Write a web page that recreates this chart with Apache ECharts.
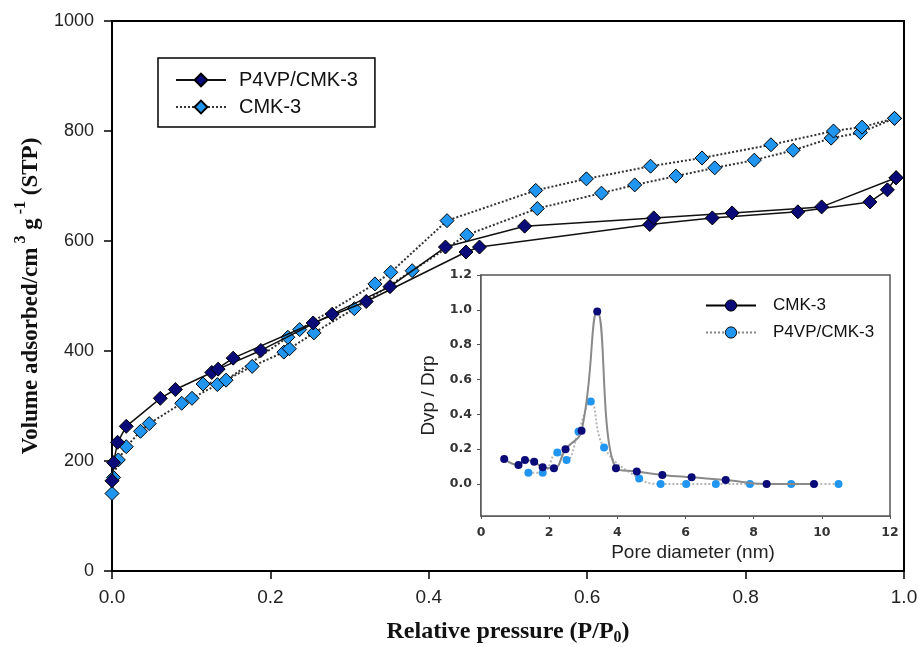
<!DOCTYPE html>
<html>
<head>
<meta charset="utf-8">
<script src="https://cdn.jsdelivr.net/npm/echarts@6/dist/echarts.min.js"></script>
<style>
html,body{margin:0;padding:0;background:#fff;}
#chart{width:918px;height:647px;}
</style>
</head>
<body>
<div id="chart"></div>
<script>
// ---- Main isotherm data (Relative pressure P/P0 vs Volume adsorbed) ----
const p4vpAdsP = [0.000, 0.002, 0.007, 0.018, 0.061, 0.080, 0.126, 0.153, 0.254, 0.321, 0.447, 0.464, 0.679, 0.758, 0.866, 0.957, 0.979, 0.990];
const p4vpAdsV = [164, 197, 234, 263, 314, 330, 361, 387, 451, 490, 580, 589, 630, 642, 653, 671, 693, 715];
const p4vpDesP = [0.990, 0.896, 0.783, 0.684, 0.521, 0.421, 0.351, 0.278, 0.188, 0.134];
const p4vpDesV = [715, 662, 651, 642, 627, 589, 517, 467, 401, 367];

const cmkAdsP = [0.000, 0.002, 0.008, 0.018, 0.036, 0.047, 0.088, 0.101, 0.133, 0.177, 0.217, 0.224, 0.255, 0.306, 0.379, 0.448, 0.537, 0.618, 0.660, 0.712, 0.761, 0.811, 0.860, 0.908, 0.945, 0.988];
const cmkAdsV = [141, 170, 202, 226, 254, 268, 305, 314, 339, 372, 398, 404, 433, 477, 546, 611, 659, 687, 702, 718, 733, 747, 765, 787, 797, 823];
const cmkDesP = [0.988, 0.947, 0.911, 0.832, 0.745, 0.680, 0.599, 0.535, 0.423, 0.352, 0.332, 0.237, 0.222, 0.144, 0.115];
const cmkDesV = [823, 807, 800, 775, 751, 736, 713, 692, 637, 543, 522, 439, 425, 347, 340];

// ---- Inset pore size distribution data ----
const poreCmkD = [0.68, 1.10, 1.29, 1.56, 1.81, 2.14, 2.48, 2.95, 3.41, 3.96, 4.57, 5.32, 6.18, 7.18, 8.38, 9.77];
const poreCmkV = [0.144, 0.109, 0.138, 0.128, 0.096, 0.090, 0.199, 0.306, 0.990, 0.090, 0.071, 0.052, 0.038, 0.023, 0.0, 0.0];
const poreP4vpD = [1.39, 1.81, 2.24, 2.51, 2.86, 3.22, 3.61, 4.64, 5.27, 6.02, 6.89, 7.89, 9.10, 10.49];
const poreP4vpV = [0.065, 0.065, 0.180, 0.138, 0.301, 0.473, 0.209, 0.032, 0.0, 0.0, 0.0, 0.0, 0.0, 0.0];

// ---- Tick values ----
const insetYTicks = [0, 0.2, 0.4, 0.6, 0.8, 1.0, 1.2];

const zip = (a, b) => a.map((v, i) => [v, b[i]]);

const DARK = '#0a0a78';
const LIGHT = '#2196f0';

const chart = echarts.init(document.getElementById('chart'), null, {renderer: 'canvas'});

const mainDark = {
  type: 'line', name: 'P4VP/CMK-3', xAxisIndex: 0, yAxisIndex: 0,
  symbol: 'diamond', symbolSize: 14,
  itemStyle: {color: DARK, borderColor: '#000', borderWidth: 1},
  lineStyle: {color: '#111', width: 1.5, type: 'solid'},
  z: 4
};
const mainLight = {
  type: 'line', name: 'CMK-3', xAxisIndex: 0, yAxisIndex: 0,
  symbol: 'diamond', symbolSize: 14,
  itemStyle: {color: LIGHT, borderColor: '#000', borderWidth: 1},
  lineStyle: {color: '#333', width: 2, type: 'dotted'},
  z: 3
};

const option = {
  animation: false,
  backgroundColor: '#fff',
  grid: [
    {left: 112, right: 14, top: 21, bottom: 76, containLabel: false, outerBoundsMode: 'none', show: true, borderColor: '#000', borderWidth: 2, backgroundColor: 'transparent'},
    {left: 481, right: 28, top: 275, bottom: 131, containLabel: false, outerBoundsMode: 'none', show: true, borderColor: '#555', borderWidth: 1.5, backgroundColor: '#fff', z: 5}
  ],
  legend: [
    {
      data: ['P4VP/CMK-3', 'CMK-3'],
      orient: 'vertical',
      left: 158, top: 58,
      padding: [12, 17, 10, 17],
      itemGap: 7,
      itemWidth: 50, itemHeight: 16,
      borderColor: '#000', borderWidth: 1.5,
      backgroundColor: '#fff',
      textStyle: {fontFamily: 'Liberation Sans, Arial, sans-serif', fontSize: 20, color: '#111', padding: [0, 0, 0, 8]},
      selectedMode: false
    },
    {
      data: [
        {name: 'in-CMK-3', lineStyle: {color: '#000', width: 2, type: 'solid'}, itemStyle: {borderColor: '#000', borderWidth: 1}},
        {name: 'in-P4VP/CMK-3', lineStyle: {color: '#888', width: 2, type: 'dotted'}, itemStyle: {borderColor: '#000', borderWidth: 1}}
      ],
      formatter: n => n.replace('in-', ''),
      orient: 'vertical',
      left: 705, top: 297,
      padding: 0,
      itemGap: 10,
      itemWidth: 50, itemHeight: 14,
      textStyle: {fontFamily: 'Liberation Sans, Arial, sans-serif', fontSize: 17, color: '#111', padding: [0, 0, 0, 12]},
      selectedMode: false,
      z: 10
    }
  ],
  xAxis: [
    {
      type: 'value', gridIndex: 0, min: 0, max: 1, interval: 0.2,
      name: '{a|Relative pressure (P/P}{b|0}{a|)}',
      nameLocation: 'middle', nameGap: 47,
      nameTextStyle: {
        rich: {
          a: {fontFamily: 'Liberation Serif, Times New Roman, serif', fontWeight: 'bold', fontSize: 24, color: '#111', lineHeight: 28, verticalAlign: 'middle'},
          b: {fontFamily: 'Liberation Serif, Times New Roman, serif', fontWeight: 'bold', fontSize: 16, color: '#111', lineHeight: 16, verticalAlign: 'bottom'}
        }
      },
      axisLine: {show: true, onZero: false, lineStyle: {color: '#000', width: 2}},
      axisTick: {show: true, inside: false, length: 8, lineStyle: {color: '#000', width: 1.5}},
      axisLabel: {margin: 17, fontFamily: 'Liberation Sans, Arial, sans-serif', fontSize: 19, color: '#222', formatter: v => v.toFixed(1)},
      splitLine: {show: false}
    },
    {
      type: 'value', gridIndex: 1, min: 0, max: 12, interval: 2,
      name: 'Pore diameter (nm)',
      nameLocation: 'middle', nameGap: 27,
      nameTextStyle: {fontFamily: 'Liberation Sans, Arial, sans-serif', fontSize: 19, color: '#222', padding: [0, 0, 0, 15]},
      axisLine: {show: true, onZero: false, lineStyle: {color: '#555', width: 1.5}},
      axisTick: {show: true, inside: false, length: 3, lineStyle: {color: '#555', width: 1}},
      axisLabel: {margin: 10, fontFamily: 'DejaVu Sans, sans-serif', fontWeight: 'bold', fontSize: 12.5, color: '#333'},
      splitLine: {show: false}
    }
  ],
  yAxis: [
    {
      type: 'value', gridIndex: 0, min: 0, max: 1000, interval: 200,
      name: '{a|Volume adsorbed/cm}{s| 3}{a| g}{s| -1}{a| (STP)}',
      nameLocation: 'middle', nameGap: 61,
      nameTextStyle: {
        rich: {
          a: {fontFamily: 'Liberation Serif, Times New Roman, serif', fontWeight: 'bold', fontSize: 23, color: '#111', lineHeight: 30, verticalAlign: 'bottom'},
          s: {fontFamily: 'Liberation Serif, Times New Roman, serif', fontWeight: 'bold', fontSize: 16, color: '#111', lineHeight: 14, verticalAlign: 'top'}
        }
      },
      axisLine: {show: true, onZero: false, lineStyle: {color: '#000', width: 2}},
      axisTick: {show: true, inside: false, length: 8, lineStyle: {color: '#000', width: 1.5}},
      axisLabel: {margin: 18, fontFamily: 'Liberation Sans, Arial, sans-serif', fontSize: 18, color: '#222', formatter: v => String(v)},
      splitLine: {show: false}
    },
    {
      type: 'value', gridIndex: 1, min: -0.184, max: 1.2,
      name: 'Dvp / Drp',
      nameLocation: 'middle', nameGap: 43,
      nameTextStyle: {fontFamily: 'Liberation Sans, Arial, sans-serif', fontSize: 19, color: '#222'},
      axisLine: {show: true, onZero: false, lineStyle: {color: '#555', width: 1.5}},
      axisTick: {show: true, inside: false, length: 4, customValues: insetYTicks, lineStyle: {color: '#555', width: 1}},
      axisLabel: {margin: 9, customValues: insetYTicks, fontFamily: 'DejaVu Sans, sans-serif', fontWeight: 'bold', fontSize: 12.5, color: '#333', formatter: v => Number(v).toFixed(1)},
      splitLine: {show: false}
    }
  ],
  series: [
    Object.assign({}, mainLight, {data: zip(cmkAdsP, cmkAdsV)}),
    Object.assign({}, mainLight, {data: zip(cmkDesP, cmkDesV)}),
    Object.assign({}, mainDark, {data: zip(p4vpAdsP, p4vpAdsV)}),
    Object.assign({}, mainDark, {data: zip(p4vpDesP, p4vpDesV)}),
    {
      type: 'line', name: 'in-CMK-3', xAxisIndex: 1, yAxisIndex: 1,
      data: zip(poreCmkD, poreCmkV),
      smooth: 0.45,
      symbol: 'circle', symbolSize: 8,
      itemStyle: {color: DARK},
      lineStyle: {color: '#8a8a8a', width: 2},
      z: 8
    },
    {
      type: 'line', name: 'in-P4VP/CMK-3', xAxisIndex: 1, yAxisIndex: 1,
      data: zip(poreP4vpD, poreP4vpV),
      smooth: 0.45,
      symbol: 'circle', symbolSize: 8,
      itemStyle: {color: LIGHT},
      lineStyle: {color: '#b5b5b5', width: 2, type: 'dotted'},
      z: 7
    }
  ]
};

chart.setOption(option);
</script>
</body>
</html>
